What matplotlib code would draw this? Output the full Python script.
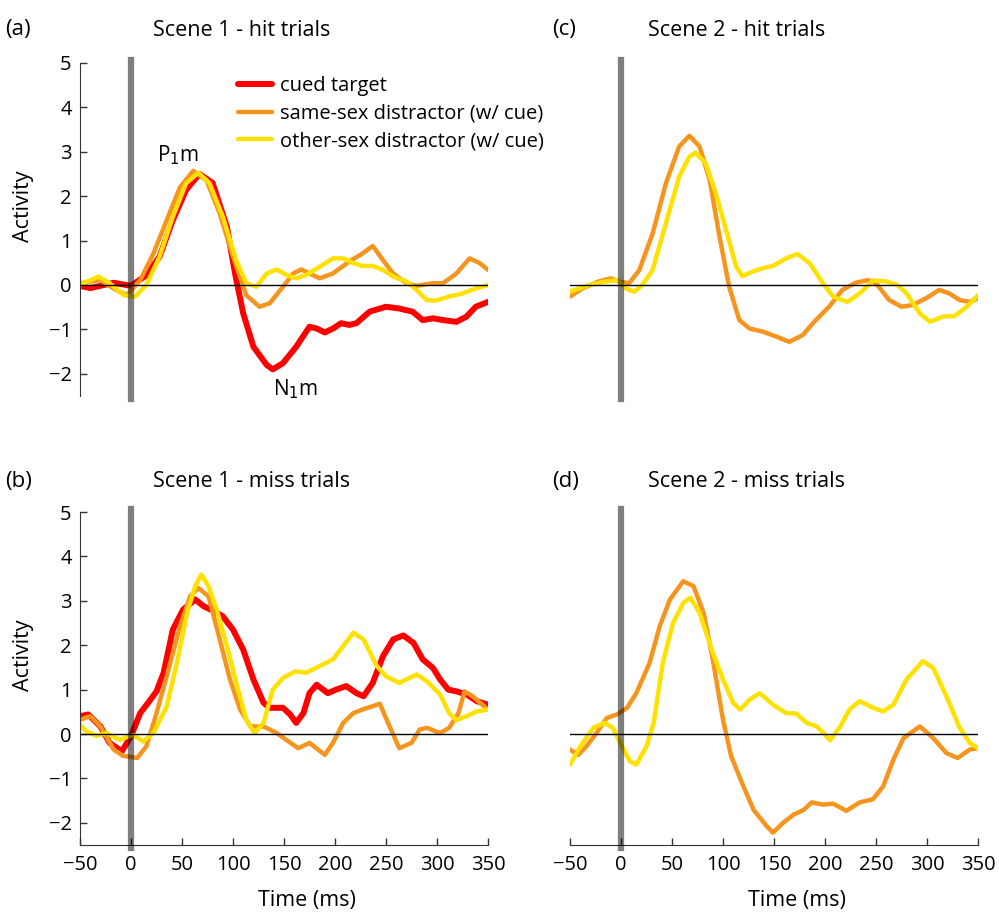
import numpy as np
import matplotlib.pyplot as plt

plt.rcParams['font.family'] = ['Open Sans', 'DejaVu Sans']

# Couleurs des trois conditions
RED = '#ff0000'
ORANGE = '#f7941d'
YELLOW = '#ffe100'

labels = ['cued target', 'same-sex distractor (w/ cue)', 'other-sex distractor (w/ cue)']

# (a) Scene 1 - hit trials
a_red_t = [-50, -40, -17, 0, 15, 28, 41, 54, 67, 80, 94, 102, 110, 120, 133, 139, 149, 162,
           175, 182, 190, 198, 206, 214, 221, 234, 250, 263, 276, 286, 296, 306, 319, 329, 338, 350]
a_red_v = [-0.02, -0.07, 0.05, -0.02, 0.22, 0.64, 1.46, 2.14, 2.5, 2.3, 1.31, 0.26, -0.64, -1.39,
           -1.8, -1.9, -1.76, -1.39, -0.94, -0.98, -1.07, -0.98, -0.86, -0.9, -0.86, -0.6, -0.49,
           -0.53, -0.6, -0.79, -0.75, -0.79, -0.83, -0.71, -0.49, -0.38]
a_ora_t = [-50, -30, -17, -4, 9, 22, 35, 48, 61, 74, 87, 100, 113, 126, 136, 149, 159, 167, 175,
           185, 198, 214, 227, 237, 247, 257, 270, 280, 296, 306, 319, 332, 342, 350]
a_ora_v = [0.04, 0.11, -0.08, -0.23, 0.11, 0.71, 1.46, 2.2, 2.57, 2.36, 1.61, 0.64, -0.23, -0.49,
           -0.41, -0.04, 0.26, 0.35, 0.26, 0.15, 0.26, 0.53, 0.71, 0.88, 0.56, 0.26, 0.04, -0.02,
           0.04, 0.04, 0.26, 0.6, 0.49, 0.34]
a_yel_t = [-50, -32, -21, -7, 4, 15, 28, 41, 54, 66, 77, 90, 103, 113, 123, 133, 143, 152, 162,
           172, 185, 198, 208, 218, 227, 237, 247, 257, 270, 280, 290, 299, 312, 325, 338, 350]
a_yel_v = [0.0, 0.19, 0.04, -0.23, -0.26, 0.0, 0.64, 1.54, 2.29, 2.53, 2.29, 1.54, 0.56, 0.04,
           -0.04, 0.26, 0.35, 0.23, 0.15, 0.23, 0.41, 0.6, 0.6, 0.49, 0.43, 0.43, 0.34, 0.19,
           0.08, -0.11, -0.34, -0.35, -0.26, -0.19, -0.08, 0.0]

# (b) Scene 1 - miss trials
b_red_t = [-50, -42, -30, -21, -9, 0, 9, 19, 25, 32, 41, 51, 63, 71, 81, 90, 100, 110, 120, 130,
           136, 149, 156, 162, 169, 175, 182, 193, 201, 211, 221, 228, 237, 247, 257, 267, 277,
           286, 296, 303, 311, 319, 329, 339, 350]
b_red_v = [0.4, 0.44, 0.17, -0.2, -0.39, -0.05, 0.47, 0.77, 0.96, 1.38, 2.35, 2.8, 3.03, 2.88,
           2.77, 2.65, 2.35, 1.9, 1.23, 0.7, 0.59, 0.59, 0.44, 0.25, 0.47, 0.92, 1.11, 0.92, 1.0,
           1.08, 0.92, 0.85, 1.15, 1.75, 2.13, 2.22, 2.05, 1.68, 1.49, 1.23, 1.0, 0.96, 0.89,
           0.74, 0.66]
b_ora_t = [-50, -40, -30, -17, -8, 6, 15, 25, 35, 48, 58, 66, 76, 87, 97, 107, 117, 130, 143,
           152, 164, 175, 190, 198, 208, 218, 228, 244, 252, 263, 275, 283, 290, 303, 312, 321,
           327, 335, 350]
b_ora_v = [0.32, 0.4, 0.17, -0.35, -0.49, -0.54, -0.28, 0.47, 1.3, 2.43, 3.1, 3.29, 3.1, 2.13,
           1.23, 0.55, 0.17, 0.17, 0.02, -0.13, -0.32, -0.2, -0.47, -0.2, 0.25, 0.47, 0.56, 0.68,
           0.25, -0.32, -0.2, 0.1, 0.14, 0.02, 0.14, 0.47, 0.96, 0.85, 0.55]
b_yel_t = [-50, -44, -34, -24, -11, 2, 12, 22, 35, 45, 55, 63, 69, 76, 84, 94, 104, 113, 121,
           130, 139, 149, 161, 172, 185, 198, 208, 218, 228, 241, 250, 263, 270, 280, 290, 303,
           312, 319, 329, 339, 350]
b_yel_v = [0.21, 0.06, -0.04, 0.02, -0.13, -0.02, -0.17, 0.02, 0.62, 1.6, 2.73, 3.33, 3.59, 3.33,
           2.8, 1.98, 1.08, 0.32, 0.02, 0.25, 1.0, 1.26, 1.41, 1.38, 1.53, 1.68, 1.98, 2.28, 2.13,
           1.53, 1.3, 1.15, 1.23, 1.34, 1.19, 0.89, 0.47, 0.31, 0.4, 0.51, 0.55]

# (c) Scene 2 - hit trials
c_ora_t = [-50, -38, -22, -10, -2, 8, 18, 31, 44, 57, 67, 77, 87, 96, 106, 116, 126, 139, 152,
           165, 178, 191, 204, 217, 230, 242, 250, 263, 275, 286, 299, 312, 322, 332, 342, 350]
c_ora_v = [-0.26, -0.08, 0.08, 0.15, 0.08, 0.04, 0.34, 1.16, 2.29, 3.12, 3.36, 3.12, 2.36, 1.16,
           -0.04, -0.79, -0.98, -1.05, -1.16, -1.28, -1.13, -0.79, -0.49, -0.11, 0.05, 0.11, 0.04,
           -0.34, -0.49, -0.45, -0.3, -0.11, -0.19, -0.34, -0.38, -0.3]
c_yel_t = [-50, -31, -15, -4, 5, 13, 21, 31, 44, 57, 67, 73, 83, 93, 103, 113, 119, 129, 139,
           149, 162, 173, 185, 198, 208, 222, 234, 247, 260, 271, 280, 293, 303, 316, 327, 339, 350]
c_yel_v = [-0.15, 0.0, 0.08, 0.11, -0.08, -0.15, 0.0, 0.34, 1.39, 2.44, 2.89, 2.98, 2.74, 2.06,
           1.24, 0.41, 0.2, 0.3, 0.38, 0.43, 0.6, 0.7, 0.49, 0.04, -0.26, -0.38, -0.19, 0.1, 0.08,
           0.0, -0.19, -0.64, -0.83, -0.71, -0.7, -0.49, -0.23]

# (d) Scene 2 - miss trials
d_ora_t = [-50, -42, -34, -24, -14, -4, 6, 15, 28, 38, 48, 61, 71, 81, 90, 100, 108, 120, 130,
           143, 149, 159, 169, 179, 187, 198, 208, 221, 234, 247, 257, 267, 277, 293, 306, 319,
           330, 342, 350]
d_ora_v = [-0.35, -0.47, -0.28, 0.02, 0.36, 0.44, 0.59, 0.92, 1.6, 2.43, 3.03, 3.44, 3.33, 2.73,
           1.68, 0.32, -0.5, -1.18, -1.71, -2.08, -2.22, -2.0, -1.82, -1.71, -1.54, -1.59, -1.57,
           -1.73, -1.54, -1.47, -1.18, -0.58, -0.09, 0.17, -0.09, -0.43, -0.54, -0.35, -0.32]
d_yel_t = [-50, -40, -27, -16, -8, 1, 9, 15, 25, 32, 41, 51, 61, 68, 77, 90, 100, 110, 117, 126,
           136, 149, 162, 172, 182, 192, 205, 215, 224, 234, 247, 257, 267, 280, 296, 306, 319,
           332, 342, 350]
d_yel_v = [-0.69, -0.28, 0.14, 0.25, 0.14, -0.28, -0.62, -0.69, -0.28, 0.25, 1.6, 2.5, 2.95, 3.07,
           2.73, 1.83, 1.23, 0.7, 0.55, 0.77, 0.92, 0.66, 0.47, 0.46, 0.25, 0.17, -0.14, 0.17,
           0.55, 0.74, 0.59, 0.51, 0.66, 1.23, 1.64, 1.49, 0.85, 0.14, -0.2, -0.32]

fig = plt.figure(figsize=(9.99, 9.15), dpi=100)

W, H = 999, 915
def add_ax(x0, y_top, y_bot):
    ax = fig.add_axes([x0 / W, 1 - y_bot / H, 408 / W, (y_bot - y_top) / H])
    ax.patch.set_visible(False)
    return ax

ax_a = add_ax(80, 63, 396)
ax_c = add_ax(570, 63, 396)
ax_b = add_ax(80, 512, 845)
ax_d = add_ax(570, 512, 845)

panels = [
    (ax_a, [(a_red_t, a_red_v, RED, 4.3), (a_ora_t, a_ora_v, ORANGE, 3.2), (a_yel_t, a_yel_v, YELLOW, 3.2)]),
    (ax_b, [(b_red_t, b_red_v, RED, 4.3), (b_ora_t, b_ora_v, ORANGE, 3.2), (b_yel_t, b_yel_v, YELLOW, 3.2)]),
    (ax_c, [(c_ora_t, c_ora_v, ORANGE, 3.2), (c_yel_t, c_yel_v, YELLOW, 3.2)]),
    (ax_d, [(d_ora_t, d_ora_v, ORANGE, 3.2), (d_yel_t, d_yel_v, YELLOW, 3.2)]),
]

for ax, series in panels:
    for t, v, col, lw in series:
        ax.plot(t, v, color=col, lw=lw, solid_joinstyle='round', solid_capstyle='round', zorder=2)
    ax.axhline(0, color='black', lw=1.0, zorder=3)
    ax.axvline(0, ymin=-0.01, ymax=1.01, color='black', alpha=0.5, lw=4.5, zorder=4, clip_on=False)
    ax.set_xlim(-50, 350)
    ax.set_ylim(-2.5, 5)
    for s in ax.spines.values():
        s.set_visible(False)
    ax.tick_params(direction='in', length=5, labelsize=14.5, width=1, color='#333333', pad=6)
    ax.set_xticks([])
    ax.set_yticks([])

# axe y (colonne de gauche)
for ax in (ax_a, ax_b):
    ax.spines['left'].set_visible(True)
    ax.spines['left'].set_color('#333333')
    ax.set_yticks(range(-2, 6))
    ax.set_ylabel('Activity', fontsize=15.5)
    ax.yaxis.set_label_coords(-0.113, 0.57)

# axe x (ligne du bas)
for ax in (ax_b, ax_d):
    ax.spines['bottom'].set_visible(True)
    ax.spines['bottom'].set_color('#333333')
    ax.set_xticks(range(-50, 351, 50))
    ax.set_xlabel('Time (ms)', fontsize=15.5)
    ax.xaxis.set_label_coords(0.555, -0.135)
    ax.tick_params(axis='x', pad=7)

# legende du panneau (a)
handles = ax_a.get_lines()[:3]
leg = ax_a.legend(handles, labels, loc='upper left', bbox_to_anchor=(0.368, 0.985), frameon=False,
                  fontsize=14.5, handlelength=1.7, handletextpad=0.4, labelspacing=0.38,
                  borderaxespad=0)
leg.set_zorder(10)

ax_a.text(46, 2.93, 'P$_1$m', fontsize=15, ha='center', va='center')
ax_a.text(161, -2.35, 'N$_1$m', fontsize=15, ha='center', va='center')

# titres
fig.text(5 / W, 1 - 30 / H, '(a)', fontsize=16, va='center')
fig.text(153 / W, 1 - 30 / H, 'Scene 1 - hit trials', fontsize=15.5, va='center')
fig.text(552 / W, 1 - 30 / H, '(c)', fontsize=16, va='center')
fig.text(648 / W, 1 - 30 / H, 'Scene 2 - hit trials', fontsize=15.5, va='center')
fig.text(5 / W, 1 - 482 / H, '(b)', fontsize=16, va='center')
fig.text(153 / W, 1 - 482 / H, 'Scene 1 - miss trials', fontsize=15.5, va='center')
fig.text(552 / W, 1 - 482 / H, '(d)', fontsize=16, va='center')
fig.text(648 / W, 1 - 482 / H, 'Scene 2 - miss trials', fontsize=15.5, va='center')

fig.savefig('out.png', dpi=100)
